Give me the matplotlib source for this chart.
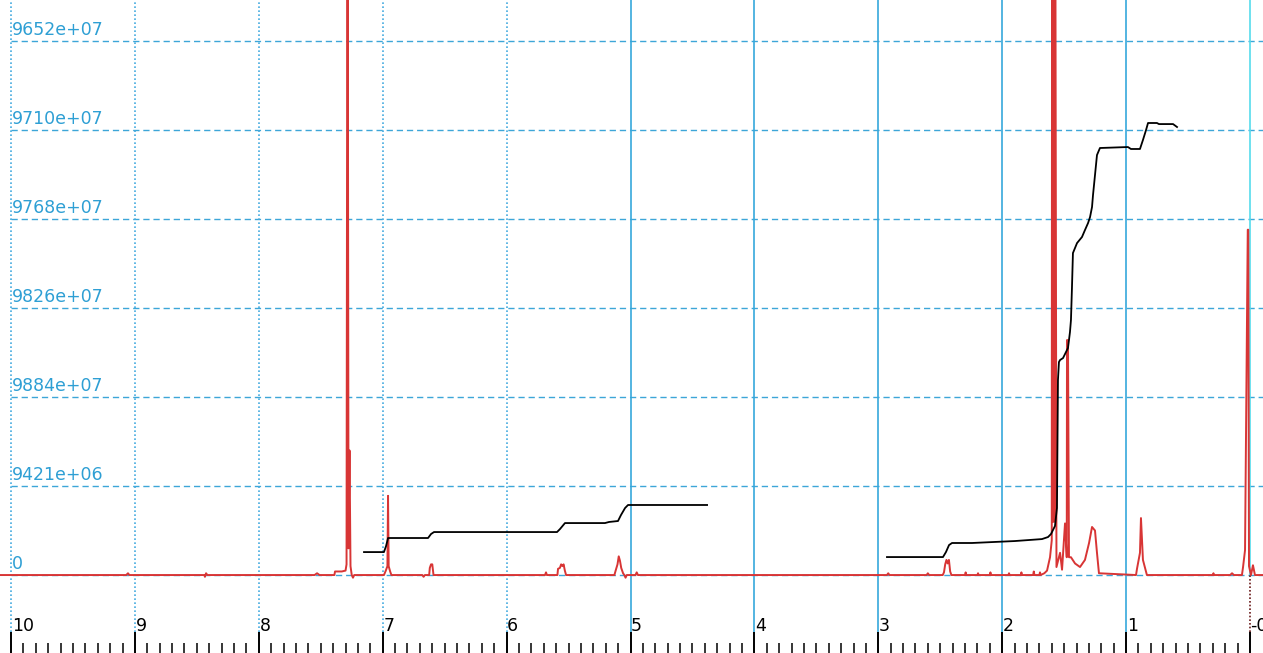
import matplotlib.pyplot as plt

# 1H NMR spectrum (ppm, intensity in grid units)
spec_ppm = [10.09, 9.07, 9.056, 9.045, 8.44, 8.435, 8.426, 8.415, 7.55, 7.53, 7.51,
            7.39, 7.385, 7.33, 7.30, 7.292, 7.284, 7.276, 7.268, 7.260, 7.25, 7.24, 7.23,
            6.99, 6.975, 6.962, 6.957, 6.952, 6.94, 6.93,
            6.68, 6.67, 6.66, 6.625, 6.62, 6.61, 6.60, 6.59,
            5.69, 5.682, 5.675, 5.59, 5.585, 5.57, 5.56, 5.55, 5.54, 5.53, 5.52,
            5.13, 5.12, 5.105, 5.095, 5.085, 5.075, 5.06, 5.05, 5.04, 5.03, 4.96, 4.95, 4.94,
            2.93, 2.92, 2.91, 2.61, 2.60, 2.59,
            2.48, 2.47, 2.46, 2.45, 2.44, 2.43, 2.42, 2.41,
            2.30, 2.295, 2.29, 2.20, 2.195, 2.19, 2.10, 2.095, 2.09, 1.95, 1.945, 1.94,
            1.85, 1.845, 1.84, 1.75, 1.745, 1.74, 1.70, 1.695, 1.69,
            1.66, 1.638, 1.614, 1.600, 1.597, 1.592, 1.589, 1.585, 1.581, 1.577, 1.573, 1.562,
            1.533, 1.517, 1.493, 1.479, 1.477, 1.469, 1.461, 1.445, 1.412, 1.372, 1.332,
            1.299, 1.275, 1.251, 1.235, 1.219,
            0.92, 0.912, 0.888, 0.880, 0.864, 0.832,
            0.30, 0.295, 0.29, 0.16, 0.145, 0.13, 0.065, 0.056, 0.040, 0.018, 0.014,
            0.008, -0.008, -0.024, -0.040, -0.11]
spec_int = [0.0, 0.0, 0.02, 0.0, 0.0, -0.02, 0.02, 0.0, 0.0, 0.02, 0.0,
            0.0, 0.04, 0.04, 0.05, 0.12, 9.0, 0.3, 1.40, 0.1, 0.0, -0.03, 0.0,
            0.0, 0.05, 0.1, 0.89, 0.1, 0.04, 0.0,
            0.0, -0.02, 0.0, 0.0, 0.08, 0.12, 0.12, 0.0,
            0.0, 0.03, 0.0, 0.0, 0.07, 0.08, 0.12, 0.10, 0.12, 0.05, 0.0,
            0.0, 0.05, 0.12, 0.21, 0.16, 0.08, 0.02, 0.0, -0.03, 0.0, 0.0, 0.03, 0.0,
            0.0, 0.02, 0.0, 0.0, 0.02, 0.0,
            0.0, 0.03, 0.12, 0.17, 0.13, 0.17, 0.04, 0.0,
            0.0, 0.03, 0.0, 0.0, 0.02, 0.0, 0.0, 0.03, 0.0, 0.0, 0.02, 0.0,
            0.0, 0.03, 0.0, 0.0, 0.04, 0.0, 0.0, 0.03, 0.0,
            0.02, 0.05, 0.2, 0.39, 9.0, 0.6, 9.0, 0.6, 9.0, 0.6, 9.0, 0.09,
            0.25, 0.06, 0.58, 0.2, 2.64, 2.64, 0.2, 0.2, 0.13, 0.09, 0.17,
            0.36, 0.54, 0.5, 0.25, 0.02,
            0.0, 0.07, 0.25, 0.64, 0.17, 0.0,
            0.0, 0.02, 0.0, 0.0, 0.02, 0.0, 0.0, 0.09, 0.28, 3.88, 3.88,
            0.1, 0.0, 0.11, 0.0, 0.0]

# integral traces
int1_ppm = [7.151, 6.990, 6.973, 6.957, 6.634, 6.610, 6.586, 5.593, 5.569, 5.529,
            5.206, 5.174, 5.101, 5.077, 5.044, 5.020, 4.382]
int1_val = [0.258, 0.258, 0.326, 0.416, 0.416, 0.461, 0.483, 0.483, 0.517, 0.584,
            0.584, 0.596, 0.607, 0.674, 0.753, 0.787, 0.787]
int2_ppm = [2.930, 2.478, 2.454, 2.429, 2.405, 2.244, 1.897, 1.679, 1.630, 1.606,
            1.590, 1.574, 1.558, 1.550, 1.542, 1.533, 1.509, 1.485, 1.469, 1.453,
            1.445, 1.437, 1.429, 1.396, 1.356, 1.332, 1.307, 1.291, 1.275, 1.267,
            1.251, 1.235, 1.211, 0.985, 0.961, 0.888, 0.864, 0.839, 0.823, 0.751,
            0.735, 0.621, 0.589]
int2_val = [0.202, 0.202, 0.258, 0.337, 0.360, 0.360, 0.382, 0.404, 0.427, 0.461,
            0.506, 0.551, 0.753, 2.191, 2.393, 2.416, 2.438, 2.506, 2.551, 2.730,
            2.865, 3.225, 3.618, 3.730, 3.798, 3.876, 3.955, 4.022, 4.135, 4.270,
            4.494, 4.719, 4.798, 4.809, 4.787, 4.787, 4.888, 5.000, 5.079, 5.079,
            5.067, 5.067, 5.034]

x_major = [10, 9, 8, 7, 6, 5, 4, 3, 2, 1, 0]
x_labels = ["10", "9", "8", "7", "6", "5", "4", "3", "2", "1", "-0"]
y_grid = [0, 1, 2, 3, 4, 5, 6]
y_labels = ["0", "9421e+06", "9884e+07", "9826e+07", "9768e+07", "9710e+07", "9652e+07"]

fig = plt.figure(figsize=(12.63, 6.53), dpi=100)
ax = fig.add_axes([0, 0, 1, 1])
ax.set_xlim(10.089, -0.105)
ax.set_ylim(-0.876, 6.461)
ax.axis("off")

grid_top = 6.461
grid_bot = -0.64

# horizontal dashed grid
ax.hlines(y_grid, 10.0, -0.105, colors="#3da6d8", linewidth=1.0,
          linestyles=(0, (4.5, 2.8)), zorder=1)
# vertical grid: dotted for 10..6, solid for 5..1, cyan for 0
ax.vlines([10, 9, 8, 7, 6], grid_bot, grid_top, colors="#45abdf", linewidth=1.2,
          linestyles=(0, (1, 1.4)), zorder=1)
ax.vlines([5, 4, 3, 2, 1], grid_bot, grid_top, colors="#36a8dc", linewidth=1.2, zorder=1)
ax.vlines([0], 0, grid_top, colors="#55dcec", linewidth=1.2, zorder=1)
ax.vlines([0], grid_bot, 0, colors="#6a1a1a", linewidth=1.2,
          linestyles=(0, (1, 1.2)), zorder=1)

# spectrum and integrals
ax.plot(spec_ppm, spec_int, color="#d83535", linewidth=1.4, zorder=3)
ax.plot(int1_ppm, int1_val, color="black", linewidth=1.3, zorder=4)
ax.plot(int2_ppm, int2_val, color="black", linewidth=1.3, zorder=4)

# ruler ticks
minor = [m / 10 for m in range(1, 100) if m % 10 != 0]
ax.vlines(x_major, -0.64, -0.876, colors="black", linewidth=1.4, zorder=2)
ax.vlines(minor, -0.764, -0.876, colors="black", linewidth=1.1, zorder=2)

for p, lab in zip(x_major, x_labels):
    ax.text(p - 0.005, -0.625, lab, ha="left", va="baseline", fontsize=12.5,
            color="black", family="DejaVu Sans")
for v, lab in zip(y_grid, y_labels):
    ax.text(9.995, v + 0.02, lab, ha="left", va="bottom", fontsize=12.5,
            color="#2e9fd4", family="DejaVu Sans")

fig.savefig("out.png", dpi=100)
